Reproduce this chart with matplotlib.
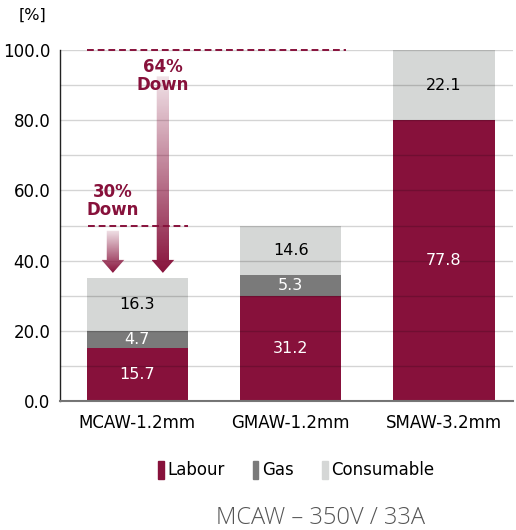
import numpy as np
import matplotlib
matplotlib.use("Agg")
import matplotlib.pyplot as plt
from matplotlib.patches import Polygon, Patch

# data
processes = ["MCAW-1.2mm", "GMAW-1.2mm", "SMAW-3.2mm"]
labour = [15, 30, 80]          # bar heights as drawn
gas = [5, 6, 0]
consumable = [15, 14, 20]
labour_txt = ["15.7", "31.2", "77.8"]
gas_txt = ["4.7", "5.3", ""]
consumable_txt = ["16.3", "14.6", "22.1"]
ref_levels = [50, 100]          # GMAW and SMAW totals
drops = ["30%\nDown", "64%\nDown"]

RED = "#87113b"
GREY = "#7a7a7a"
LIGHT = "#d5d7d6"

plt.rcParams["font.family"] = ["DejaVu Sans"]

fig = plt.figure(figsize=(5.16, 5.30), dpi=100)
ax = fig.add_axes([60 / 516, 1 - 401 / 530, 453 / 516, 351 / 530])

x = np.arange(len(processes))
w = 0.66
ax.bar(x, labour, w, color=RED, zorder=2)
ax.bar(x, gas, w, bottom=labour, color=GREY, zorder=2)
bot3 = np.array(labour) + np.array(gas)
ax.bar(x, consumable, w, bottom=bot3, color=LIGHT, zorder=2)

for i in range(len(x)):
    ax.text(x[i], labour[i] / 2, labour_txt[i], ha="center", va="center",
            color="white", fontsize=11.5, zorder=4)
    if gas[i]:
        ax.text(x[i], labour[i] + gas[i] / 2, gas_txt[i], ha="center",
                va="center", color="white", fontsize=11.5, zorder=4)
    ax.text(x[i], bot3[i] + consumable[i] / 2, consumable_txt[i], ha="center",
            va="center", color="black", fontsize=11.5, zorder=4)

# gridlines on top, faint
ax.set_yticks(np.arange(0, 101, 20))
ax.set_yticks(np.arange(0, 101, 10), minor=True)
ax.yaxis.grid(True, which="both", color="black", alpha=0.17, lw=1, zorder=3)
ax.set_axisbelow(False)
ax.tick_params(axis="y", which="both", length=0, labelsize=12, pad=7)
ax.set_yticklabels([f"{v:.1f}" for v in np.arange(0, 101, 20)])
ax.set_xticks(x)
ax.set_xticklabels(processes, fontsize=12)
ax.tick_params(axis="x", length=0, pad=9)

for s in ["top", "right"]:
    ax.spines[s].set_visible(False)
ax.spines["left"].set_color("#222")
ax.spines["left"].set_linewidth(1)
ax.spines["bottom"].set_color("#777")
ax.spines["bottom"].set_linewidth(1.5)

# dashed reference lines
ax.plot([-0.33, 1.36], [ref_levels[1]] * 2, ls=(0, (3.5, 2)), color=RED, lw=1.4,
        zorder=5, clip_on=False)
ax.plot([-0.32, 0.33], [ref_levels[0]] * 2, ls=(0, (3.5, 2)), color=RED, lw=1.4,
        zorder=5)

# gradient arrows
top0 = labour[0] + gas[0] + consumable[0]
arrow_x = [-0.16, 0.166]
arrow_top = [ref_levels[0] - 1.5, ref_levels[1] - 7.5]
text_y = [ref_levels[0] + 7, ref_levels[1] - 7.5]
sw, hw, hl = 0.04, 0.074, 3.7
tip = top0 + 1.5
rgb = matplotlib.colors.to_rgb(RED)
for ax_x, y0, ty, lab in zip(arrow_x, arrow_top, text_y, drops):
    poly = [(ax_x - sw, y0), (ax_x + sw, y0), (ax_x + sw, tip + hl),
            (ax_x + hw, tip + hl), (ax_x, tip), (ax_x - hw, tip + hl),
            (ax_x - sw, tip + hl)]
    patch = Polygon(poly, closed=True, fc="none", ec="none")
    ax.add_patch(patch)
    n = 256
    alpha = np.linspace(1.0, 0.12, n)
    img = np.zeros((n, 1, 4))
    img[:, 0, :3] = rgb
    img[:, 0, 3] = alpha
    im = ax.imshow(img, extent=(ax_x - hw, ax_x + hw, tip, y0), origin="lower",
                   aspect="auto", zorder=4, interpolation="bilinear")
    im.set_clip_path(patch)
    ax.text(ax_x, ty, lab, ha="center", va="center", color=RED,
            fontsize=12, fontweight="bold", linespacing=1.0, zorder=6)

ax.set_xlim(-0.505, 2.45)
ax.set_ylim(0, 100)

fig.text(33 / 516, 1 - 15 / 530, "[%]", ha="center", va="center", fontsize=11.5)

handles = [Patch(color=RED, label="Labour"), Patch(color=GREY, label="Gas"),
           Patch(color=LIGHT, label="Consumable")]
fig.legend(handles=handles, loc="center", bbox_to_anchor=(296 / 516, 1 - 470 / 530),
           ncol=3, frameon=False, fontsize=12, handlelength=0.35, handleheight=1.3,
           handletextpad=0.2, columnspacing=1.7)

fig.text(320 / 516, 1 - 518 / 530, "MCAW \u2013 350V / 33A", ha="center",
         va="center", fontsize=17, color="#555", family="Open Sans",
         fontweight="light")

fig.savefig("out.png", dpi=100)
